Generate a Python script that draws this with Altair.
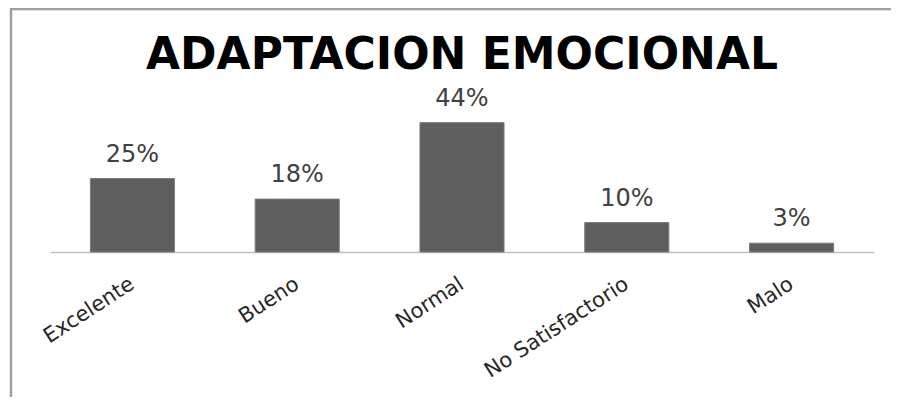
import altair as alt
import pandas as pd

categories = ["Excelente", "Bueno", "Normal", "No Satisfactorio", "Malo"]
values = [25, 18, 44, 10, 3]
labels = ["25%", "18%", "44%", "10%", "3%"]

df = pd.DataFrame({"cat": categories, "val": values, "lab": labels})
one = pd.DataFrame({"a": [0]})

FONT = "DejaVu Sans"

x_enc = alt.X(
    "cat:N",
    sort=categories,
    scale=alt.Scale(paddingInner=0.49, paddingOuter=0.245),
    axis=alt.Axis(
        title=None,
        ticks=False,
        domainColor="#c0c0c0",
        domainWidth=1.5,
        labelAngle=-33,
        labelAlign="right",
        labelBaseline="middle",
        labelPadding=30,
        labelFont=FONT,
        labelFontSize=21,
        labelColor="#262626",
    ),
)
y_enc = alt.Y("val:Q", scale=alt.Scale(domain=[0, 50]), axis=None)

bars = alt.Chart(df).mark_bar(color="#5e5e5e", stroke="#7a7a7a", strokeWidth=1).encode(
    x=x_enc, y=y_enc
)
text = alt.Chart(df).mark_text(
    dy=-12, baseline="bottom", font=FONT, fontSize=24, color="#404040"
).encode(x=alt.X("cat:N", sort=categories), y="val:Q", text="lab:N")

top_border = alt.Chart(one).mark_rule(color="#a0a0a0", strokeWidth=2.5).encode(
    x=alt.value(-39), x2=alt.value(900), y=alt.value(-96)
)
left_border = alt.Chart(one).mark_rule(color="#a0a0a0", strokeWidth=2.5).encode(
    x=alt.value(-39), y=alt.value(-97), y2=alt.value(400)
)

chart = alt.layer(bars, text, top_border, left_border).properties(
    width=824,
    height=147,
    padding={"left": 42, "top": 97, "right": 17, "bottom": 145},
    autosize=alt.AutoSizeParams(type="none"),
    background="white",
    title=alt.TitleParams(
        "ADAPTACION EMOCIONAL",
        font=FONT,
        fontSize=44,
        fontWeight="bold",
        color="#000000",
        anchor="middle",
        baseline="alphabetic",
        offset=-106,
    ),
).configure_view(stroke=None)

chart.save("out.html", embed_options={"renderer": "svg", "actions": False})
